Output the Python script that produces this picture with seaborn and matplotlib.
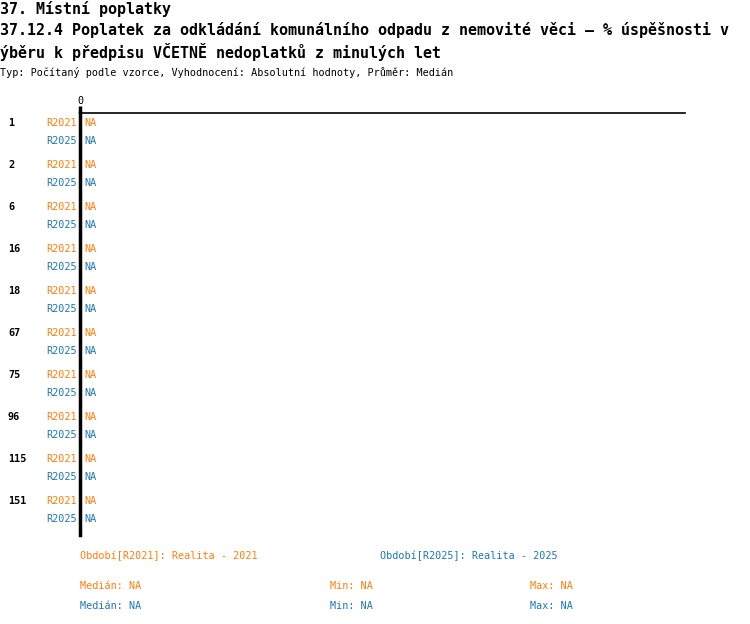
import matplotlib
matplotlib.use("Agg")
import matplotlib.pyplot as plt
import matplotlib.transforms as mtransforms
import seaborn as sns
import numpy as np
import pandas as pd

# ---- data ----
groups = ["1", "2", "6", "16", "18", "67", "75", "96", "115", "151"]
periods = ["R2021", "R2025"]
values_r2021 = [np.nan] * 10
values_r2025 = [np.nan] * 10
value_labels_r2021 = ["NA"] * 10
value_labels_r2025 = ["NA"] * 10
legend_labels = ["Období[R2021]: Realita - 2021", "Období[R2025]: Realita - 2025"]
stats_r2021 = {"Medián": "NA", "Min": "NA", "Max": "NA"}
stats_r2025 = {"Medián": "NA", "Min": "NA", "Max": "NA"}
title1 = "37. Místní poplatky"
title2 = "37.12.4 Poplatek za odkládání komunálního odpadu z nemovité věci – % úspěšnosti v"
title3 = "ýběru k předpisu VČETNĚ nedoplatků z minulých let"
subtitle = "Typ: Počítaný podle vzorce, Vyhodnocení: Absolutní hodnoty, Průměr: Medián"

colors = {"R2021": "#ff7f0e", "R2025": "#1f77b4"}

sns.set_theme(style="white")
plt.rcParams["font.family"] = ["DejaVu Sans Mono", "DejaVu Sans"]
plt.rcParams["text.color"] = "black"
plt.rcParams["xtick.color"] = "black"
plt.rcParams["ytick.color"] = "black"

W, H = 750, 624
fig = plt.figure(figsize=(7.5, 6.24), dpi=100)
ax_l, ax_r, ax_t, ax_b = 80, 685, 113, 535
ax = fig.add_axes([ax_l / W, 1 - ax_b / H, (ax_r - ax_l) / W, (ax_b - ax_t) / H])

df = pd.DataFrame({
    "group": groups * 2,
    "period": ["R2021"] * 10 + ["R2025"] * 10,
    "value": values_r2021 + values_r2025,
})
sns.barplot(data=df, y="group", x="value", hue="period", order=groups,
            hue_order=periods, palette=colors, orient="h", ax=ax, legend=False)

ax.set_xlim(0, 1)
ax.set_ylim((ax_b - 132) / 42, (ax_t - 132) / 42)
ax.set_xlabel("")
ax.set_ylabel("")
ax.set_yticks([])
ax.xaxis.tick_top()
ax.set_xticks([0])
ax.set_xticklabels(["0"], fontsize=7.3, color="black")
ax.tick_params(axis="x", length=5, width=2.5, pad=0, color="black", top=True, bottom=False)
for s in ["right", "bottom"]:
    ax.spines[s].set_visible(False)
ax.spines["left"].set_linewidth(2.5)
ax.spines["left"].set_color("black")
ax.spines["top"].set_linewidth(1.2)
ax.spines["top"].set_color("black")
ax.grid(False)

off = 9 / 42
fs = 7.3
trans_lbl = mtransforms.blended_transform_factory(fig.transFigure, ax.transData)
for i, g in enumerate(groups):
    ax.text(8 / W, i - off, g, transform=trans_lbl, ha="left", va="center",
            fontsize=fs, fontweight="bold", color="black")
    ax.text(77 / W, i - off, periods[0], transform=trans_lbl, ha="right", va="center",
            fontsize=fs, color=colors["R2021"])
    ax.text(77 / W, i + off, periods[1], transform=trans_lbl, ha="right", va="center",
            fontsize=fs, color=colors["R2025"])
    ax.text(84 / W, i - off, value_labels_r2021[i], transform=trans_lbl, ha="left",
            va="center", fontsize=fs, color=colors["R2021"])
    ax.text(84 / W, i + off, value_labels_r2025[i], transform=trans_lbl, ha="left",
            va="center", fontsize=fs, color=colors["R2025"])

def ftxt(x, y, s, **kw):
    kw.setdefault("color", "black")
    fig.text(x / W, 1 - y / H, s, **kw)

ftxt(0, 9, title1, fontsize=10.8, fontweight="bold", va="center", ha="left")
ftxt(0, 30, title2, fontsize=10.8, fontweight="bold", va="center", ha="left")
ftxt(0, 52, title3, fontsize=10.8, fontweight="bold", va="center", ha="left")
ftxt(0, 73, subtitle, fontsize=fs, va="center", ha="left")

ftxt(80, 556, legend_labels[0], fontsize=fs, va="center", color=colors["R2021"])
ftxt(380, 556, legend_labels[1], fontsize=fs, va="center", color=colors["R2025"])

xs = [80, 330, 530]
for (k, v), x in zip(stats_r2021.items(), xs):
    ftxt(x, 586, f"{k}: {v}", fontsize=fs, va="center", color=colors["R2021"])
for (k, v), x in zip(stats_r2025.items(), xs):
    ftxt(x, 606, f"{k}: {v}", fontsize=fs, va="center", color=colors["R2025"])

fig.savefig("out.png", dpi=100)
